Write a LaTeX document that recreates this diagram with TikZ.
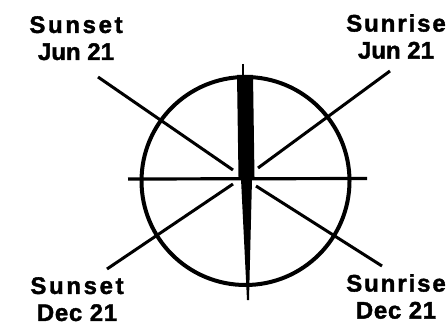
\documentclass[tikz,border=0pt]{standalone}
\usepackage{fontspec}
\setmainfont{Liberation Sans}[BoldFeatures={FakeBold=1.6}]
\newcommand{\lsp}[2]{{\addfontfeature{LetterSpace=#1}#2}}
\begin{document}
\begin{tikzpicture}[x=1pt,y=-1pt,
  ray/.style={line width=3pt},
  lab/.style={inner sep=0pt,align=center,font=\fontsize{24}{27}\selectfont\bfseries}]
\useasboundingbox (0,0) rectangle (446,326);
\coordinate (c) at (245.5,181);
% circle
\draw[line width=4pt] (c) circle [radius=104pt];
% horizontal line
\coordinate (hl) at (128,179);
\coordinate (hr) at (367,178.5);
\draw[line width=3.2pt] (hl) -- (hr);
% shadow bar (north)
\fill (237,75) -- (253,75) -- (254.5,177) -- (238.5,177) -- cycle;
\coordinate (t1) at (243,64);
\coordinate (t2) at (243,76);
\draw[line width=2.5pt] (t1) -- (t2);
% south line
\fill (241,179) -- (252,179) -- (249,300) -- (247,300) -- cycle;
% rays
\coordinate (ul1) at (98,77);  \coordinate (ul2) at (233,170);
\coordinate (ur1) at (390,71); \coordinate (ur2) at (258,168);
\coordinate (ll1) at (107,269); \coordinate (ll2) at (233,184);
\coordinate (lr1) at (382,266); \coordinate (lr2) at (256,186);
\draw[ray] (ul1) -- (ul2);
\draw[ray] (ur1) -- (ur2);
\draw[ray] (ll1) -- (ll2);
\draw[ray] (lr1) -- (lr2);
% labels
\node[lab,anchor=north] (sj) at (76,16) {\lsp{11}{Sunset}\\\lsp{0}{Jun 21}};
\node[lab,anchor=north] (rj) at (396,14) {\lsp{8}{Sunrise}\\\lsp{0}{Jun 21}};
\node[lab,anchor=north] (sd) at (77,277) {\lsp{11}{Sunset}\\\lsp{3}{Dec 21}};
\node[lab,anchor=north] (rd) at (396,274) {\lsp{8}{Sunrise}\\\lsp{3}{Dec 21}};
\end{tikzpicture}
\end{document}
